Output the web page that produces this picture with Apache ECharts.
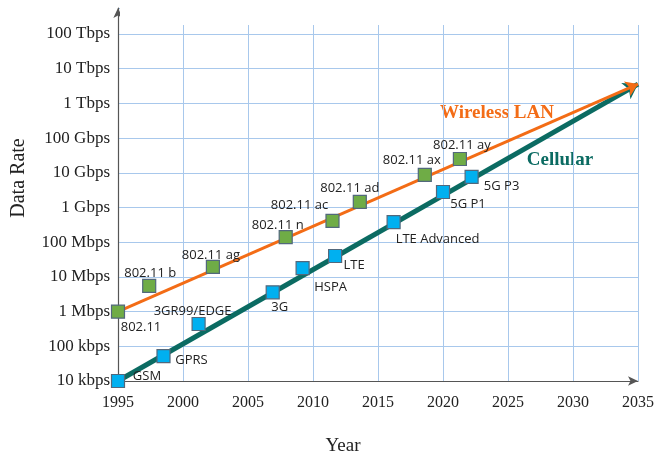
<!DOCTYPE html>
<html>
<head>
<meta charset="utf-8">
<script src="https://cdn.jsdelivr.net/npm/echarts@6/dist/echarts.min.js"></script>
<style>
  html, body { margin: 0; padding: 0; background: #fff; }
  #chart { width: 657px; height: 458px; }
</style>
</head>
<body>
<div id="chart"></div>
<script>
// data (rates in bit/s)
var wlanNames = ['802.11', '802.11 b', '802.11 ag', '802.11 n', '802.11 ac', '802.11 ad', '802.11 ax', '802.11 ay'];
var wlanYears = [1995, 1997.4, 2002.3, 2007.9, 2011.5, 2013.6, 2018.6, 2021.3];
var wlanRates = [1e6, 5.5e6, 1.95e7, 1.4e8, 4.1e8, 1.45e9, 8.7e9, 2.5e10];

var cellNames = ['GSM', 'GPRS', '3GR99/EDGE', '3G', 'HSPA', 'LTE', 'LTE Advanced', '5G P1', '5G P3'];
var cellYears = [1995, 1998.5, 2001.2, 2006.9, 2009.2, 2011.7, 2016.2, 2020.0, 2022.2];
var cellRates = [1e4, 5.2e4, 4.4e5, 3.6e6, 1.8e7, 4e7, 3.8e8, 2.8e9, 7.6e9];

// trend arrows: start and end [year, rate]
var wlanTrend = [[1995, 1e6], [2035, 3.6e12]];
var cellTrend = [[1995, 1e4], [2035, 3.6e12]];

var yTickLabels = ['10 kbps', '100 kbps', '1 Mbps', '10 Mbps', '100 Mbps', '1 Gbps',
                   '10 Gbps', '100 Gbps', '1 Tbps', '10 Tbps', '100 Tbps'];

// where each point's label sits, relative to the marker centre
var labelOffsets = {
  '802.11': [23, 16], '802.11 b': [1, -13], '802.11 ag': [-2, -12], '802.11 n': [-8, -12],
  '802.11 ac': [-33, -16], '802.11 ad': [-10, -14], '802.11 ax': [-13, -15], '802.11 ay': [2, -14],
  'GSM': [29, -5], 'GPRS': [28, 4], '3GR99/EDGE': [-6, -13], '3G': [7, 15], 'HSPA': [28, 19],
  'LTE': [19, 9], 'LTE Advanced': [44, 17], '5G P1': [25, 12], '5G P3': [30, 9]
};

var ORANGE = '#F36C16', TEAL = '#0B6B62';
var SERIF = '"Liberation Serif", "DejaVu Serif", serif';

function pointData(names, years, rates) {
  var out = [];
  for (var i = 0; i < names.length; i++) {
    out.push({
      name: names[i],
      value: [years[i], rates[i]],
      label: { offset: labelOffsets[names[i]] }
    });
  }
  return out;
}

var myChart = echarts.init(document.getElementById('chart'));

var pointLabel = {
  show: true,
  position: 'inside',
  formatter: '{b}',
  fontFamily: '"Open Sans", "Liberation Sans", sans-serif',
  fontSize: 13,
  color: '#222'
};

var options = {
  animation: false,
  grid: { left: 118, right: 14, top: 8, bottom: 77 },
  xAxis: {
    type: 'value',
    min: 1995,
    max: 2035,
    interval: 5,
    axisLine: { show: true, symbol: ['none', 'arrow'], symbolSize: [7, 10], lineStyle: { color: '#555', width: 1.2 } },
    axisTick: { show: false },
    axisLabel: { margin: 14, fontFamily: SERIF, fontSize: 16, color: '#222', formatter: function(v) { return '' + v; } },
    splitLine: { show: true, lineStyle: { color: '#A8C8EC', width: 1 } }
  },
  yAxis: {
    type: 'log',
    logBase: 10,
    min: 1e4,
    max: Math.pow(10, 14.75),
    interval: 1,
    axisLine: { show: true, symbol: ['none', 'arrow'], symbolSize: [7, 10], lineStyle: { color: '#555', width: 1.2 } },
    axisTick: { show: false },
    axisLabel: {
      margin: 8,
      fontFamily: SERIF,
      fontSize: 17,
      color: '#222',
      formatter: function(v) {
        var p = Math.log10(v);
        if (Math.abs(p - Math.round(p)) > 0.01) return '';
        return yTickLabels[Math.round(p) - 4] || '';
      }
    },
    splitLine: {
      show: true,
      interval: function(i, v) { return i <= 10; },
      lineStyle: { color: '#A8C8EC', width: 1 }
    }
  },
  graphic: [
    // vertical grid lines stop a little above the top horizontal one
    { type: 'rect', z: 100, shape: { x: 120, y: 0, width: 537, height: 25 }, style: { fill: '#fff' } },
    { type: 'text', x: 19, y: 178, rotation: Math.PI / 2,
      style: { text: 'Data Rate', fontFamily: SERIF, fontSize: 20, fill: '#222', align: 'center', verticalAlign: 'middle' } },
    { type: 'text', x: 343, y: 446,
      style: { text: 'Year', fontFamily: SERIF, fontSize: 19, fill: '#222', align: 'center', verticalAlign: 'middle' } },
    { type: 'text', x: 497, y: 113,
      style: { text: 'Wireless LAN', fontFamily: SERIF, fontWeight: 'bold', fontSize: 19, fill: ORANGE, align: 'center', verticalAlign: 'middle' } },
    { type: 'text', x: 560, y: 160,
      style: { text: 'Cellular', fontFamily: SERIF, fontWeight: 'bold', fontSize: 19, fill: TEAL, align: 'center', verticalAlign: 'middle' } }
  ],
  series: [
    {
      name: 'Cellular trend',
      type: 'lines',
      coordinateSystem: 'cartesian2d',
      z: 2,
      symbol: ['none', 'arrow'],
      symbolSize: 14,
      lineStyle: { color: TEAL, width: 5, opacity: 1 },
      data: [{ coords: cellTrend }]
    },
    {
      name: 'WLAN trend',
      type: 'lines',
      coordinateSystem: 'cartesian2d',
      z: 3,
      symbol: ['none', 'arrow'],
      symbolSize: 12,
      lineStyle: { color: ORANGE, width: 3, opacity: 1 },
      data: [{ coords: wlanTrend }]
    },
    {
      name: 'Wireless LAN',
      type: 'scatter',
      z: 4,
      symbol: 'rect',
      symbolSize: 13,
      itemStyle: { color: '#6FAC46', borderColor: '#52687C', borderWidth: 1.2, opacity: 1 },
      label: pointLabel,
      data: pointData(wlanNames, wlanYears, wlanRates)
    },
    {
      name: 'Cellular',
      type: 'scatter',
      z: 4,
      symbol: 'rect',
      symbolSize: 13,
      itemStyle: { color: '#00B0F0', borderColor: '#52687C', borderWidth: 1.2, opacity: 1 },
      label: pointLabel,
      data: pointData(cellNames, cellYears, cellRates)
    }
  ]
};
myChart.setOption(options);
</script>
</body>
</html>
